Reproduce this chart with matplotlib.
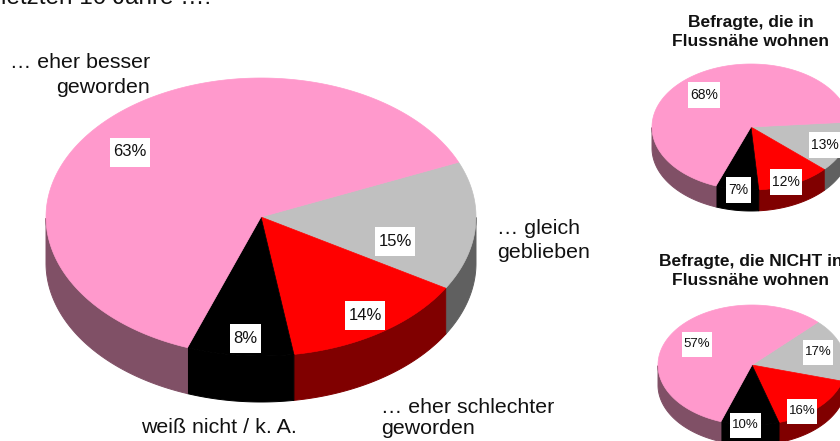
import numpy as np
import matplotlib
matplotlib.use("Agg")
import matplotlib.pyplot as plt
from matplotlib.patches import Polygon, Rectangle

plt.rcParams['font.family'] = ['Liberation Sans', 'DejaVu Sans']

# slice order: clockwise from the start angle
main_values = [15, 14, 8, 63]
near_values = [13, 12, 7, 68]
far_values = [17, 16, 10, 57]
category_labels = ["… gleich\ngeblieben", "… eher schlechter\ngeworden",
                   "weiß nicht / k. A.", "… eher besser\ngeworden"]
near_title = "Befragte, die in\nFlussnähe wohnen"
far_title = "Befragte, die NICHT in\nFlussnähe wohnen"
heading = "letzten 10 Jahre …:"

top_colors = ["#c0c0c0", "#ff0000", "#000000", "#ff99cc"]
side_colors = ["#606060", "#800000", "#000000", "#805066"]


def draw_pie(ax, values, cx, cy, rx, ry, depth, start):
    edges = start - np.cumsum([0] + values) * 3.6
    for i in range(len(values)):
        t = np.radians(np.linspace(edges[i], edges[i + 1], 200))
        # rim first, only the part facing the viewer
        front = t[np.sin(t) <= 0]
        if len(front) > 1:
            x = cx + rx * np.cos(front)
            y = cy - ry * np.sin(front)
            rim = np.r_[np.c_[x, y], np.c_[x, y + depth][::-1]]
            ax.add_patch(Polygon(rim, fc=side_colors[i], ec=side_colors[i], lw=0.7))
        x = cx + rx * np.cos(t)
        y = cy - ry * np.sin(t)
        top = np.r_[[[cx, cy]], np.c_[x, y]]
        ax.add_patch(Polygon(top, fc=top_colors[i], ec=top_colors[i], lw=0.5))


def pct_label(ax, x, y, value, size, w, h):
    ax.add_patch(Rectangle((x - w / 2, y - h / 2), w, h, fc="white", ec="none", zorder=3))
    ax.text(x, y, f"{value}%", fontsize=size, color="#111111", ha="center", va="center", zorder=4)


fig = plt.figure(figsize=(8.4, 4.41), dpi=100)
ax = fig.add_axes([0, 0, 1, 1])
ax.set_xlim(0, 840)
ax.set_ylim(441, 0)
ax.axis("off")

draw_pie(ax, main_values, 261, 217, 215, 139, 46, 23.2)
draw_pie(ax, near_values, 751, 127, 99, 63, 21, 4.5)
draw_pie(ax, far_values, 752, 365, 94, 60, 20, 45.5)

for pos, w, v in zip([(395, 241), (365, 315.5), (245.5, 338.5), (130, 152)], [40, 40, 31, 40], main_values):
    pct_label(ax, pos[0], pos[1], v, 12, w, 29)
for pos, w, v in zip([(825, 145), (786, 182), (738.5, 189.5), (704, 95)], [32, 32, 25, 32], near_values):
    pct_label(ax, pos[0], pos[1], v, 10, w, 26)
for pos, w, v in zip([(818, 352), (802, 411.5), (745.5, 425.5), (697, 344)], [30, 30, 31, 30], far_values):
    pct_label(ax, pos[0], pos[1], v, 9.5, w, 25)

ax.text(497, 240.5, category_labels[0], fontsize=15.4, ha="left", va="center", color="#111111", linespacing=1.35)
ax.text(381, 418, category_labels[1], fontsize=15.4, ha="left", va="center", color="#111111", linespacing=1.14)
ax.text(218.5, 427.5, category_labels[2], fontsize=15.4, ha="center", va="center", color="#111111")
ax.text(150, 75, category_labels[3], fontsize=15.4, ha="right", va="center", color="#111111", linespacing=1.35,
        multialignment="right")

ax.text(750.5, 32, near_title, fontsize=12.5, fontweight="bold", ha="center", va="center", color="#111111", linespacing=1.4)
ax.text(750.5, 271, far_title, fontsize=12.5, fontweight="bold", ha="center", va="center", color="#111111", linespacing=1.33)
ax.text(1, 4, heading, fontsize=17.5, ha="left", va="baseline", color="#111111")

fig.savefig("out.png", dpi=100)
